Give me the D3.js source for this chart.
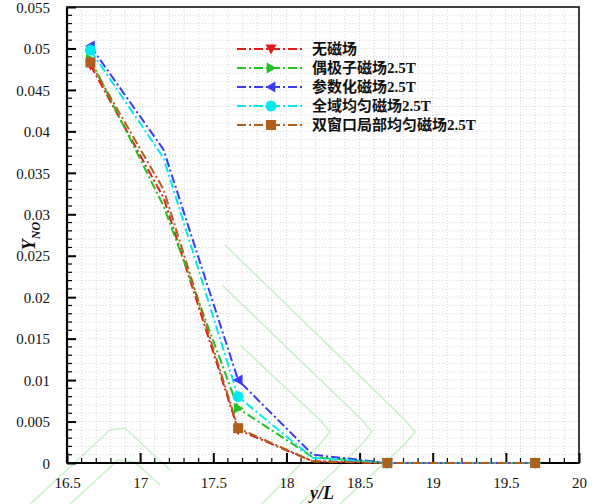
<!DOCTYPE html>
<html><head><meta charset="utf-8">
<script src="https://cdn.jsdelivr.net/npm/d3@7/dist/d3.min.js"></script>
<style>
html,body{margin:0;padding:0;background:#fff;}
svg{display:block;}
</style></head>
<body>
<svg id="chart" width="592" height="504"></svg>
<script>
// ---- data ----
const xValues = [16.66, 17.16, 17.67, 18.18, 18.69, 19.19, 19.70];
const seriesNames = ["无磁场", "偶极子磁场2.5T", "参数化磁场2.5T", "全域均匀磁场2.5T", "双窗口局部均匀磁场2.5T"];
const noField      = [0.0480, 0.0320, 0.0040, 0.0002, 0, 0, 0];
const dipoleField  = [0.0487, 0.0310, 0.0066, 0.0007, 0, 0, 0];
const paramField   = [0.0503, 0.0378, 0.0100, 0.0010, 0, 0, 0];
const globalField  = [0.0498, 0.0368, 0.0080, 0.0006, 0, 0, 0];
const windowField  = [0.0483, 0.0330, 0.0042, 0.0002, 0, 0, 0];
const xTickLabels = ["16.5","17","17.5","18","18.5","19","19.5","20"];
const yTickLabels = ["0","0.005","0.01","0.015","0.02","0.025","0.03","0.035","0.04","0.045","0.05","0.055"];

const seriesValues = [noField, dipoleField, paramField, globalField, windowField];
const colors = ["#e3191c", "#22c322", "#3b3bf5", "#00eaf0", "#b0601c"];
const markers = ["tdown", "tright", "tleft", "circle", "square"];

const svg = d3.select("#chart");
const L = 67, R = 579, T = 7, B = 463;
const x = d3.scaleLinear().domain([16.5, 20]).range([L, R]);
const y = d3.scaleLinear().domain([0, 0.055]).range([B, T]);

// ---- watermark (decorative) ----
const wm = svg.append("g").attr("fill","none").attr("stroke","#c9f2c9").attr("stroke-width",1.6);
const chevrons = [
  [[225,245],[405,420],[415,432],[405,444],[340,504]],
  [[222,285],[362,420],[372,432],[362,444],[300,504]],
  [[240,345],[320,420],[330,432],[320,444],[262,504]],
  [[30,504],[110,430],[125,428],[170,470]],
  [[70,504],[118,460],[135,462],[160,485]]
];
chevrons.forEach(c => wm.append("path").attr("d", d3.line().curve(d3.curveLinear)(c)));

// ---- grid ----
const grid = svg.append("g").attr("stroke","#d6d6d6").attr("stroke-width",1).attr("stroke-dasharray","1,2");
d3.range(16.6, 20.0, 0.1).forEach(v => grid.append("line").attr("x1",x(v)).attr("x2",x(v)).attr("y1",T).attr("y2",B));
d3.range(0.001, 0.0551, 0.001).forEach(v => grid.append("line").attr("x1",L).attr("x2",R).attr("y1",y(v)).attr("y2",y(v)));

// ---- axes ----
const xMajor = xTickLabels.map(Number);
const yMajor = yTickLabels.map(Number);
const xAxis = d3.axisBottom(x).tickValues(xMajor).tickFormat((d,i)=>xTickLabels[i]).tickSizeInner(-10).tickSizeOuter(0).tickPadding(14);
const yAxis = d3.axisLeft(y).tickValues(yMajor).tickFormat((d,i)=>yTickLabels[i]).tickSizeInner(-9).tickSizeOuter(0).tickPadding(17);
const gx = svg.append("g").attr("transform",`translate(0,${B})`).call(xAxis);
const gy = svg.append("g").attr("transform",`translate(${L},0)`).call(yAxis);
// minor ticks
const xMinor = d3.range(16.6, 20.0, 0.1).filter(v => Math.abs(v*2 - Math.round(v*2)) > 0.01);
const yMinor = d3.range(0.001, 0.055, 0.001).filter(v => Math.abs(v/0.005 - Math.round(v/0.005)) > 0.01);
gx.selectAll(".minor").data(xMinor).enter().append("line").attr("class","minor")
  .attr("x1",d=>x(d)).attr("x2",d=>x(d)).attr("y1",0).attr("y2",-5).attr("stroke","#000").attr("stroke-width",1.2);
gy.selectAll(".minor").data(yMinor).enter().append("line").attr("class","minor")
  .attr("y1",d=>y(d)).attr("y2",d=>y(d)).attr("x1",0).attr("x2",5).attr("stroke","#000").attr("stroke-width",1.2);
[gx, gy].forEach(g => {
  g.select(".domain").remove();
  g.selectAll(".tick line").attr("stroke","#000").attr("stroke-width",2);
  g.selectAll("text").attr("font-family","'Liberation Serif','Times New Roman',serif").attr("font-size",15).attr("fill","#111");
});
gy.selectAll("text").attr("dy","0.35em");
// frame
svg.append("rect").attr("x",L).attr("y",T).attr("width",R-L).attr("height",B-T)
  .attr("fill","none").attr("stroke","#111").attr("stroke-width",1.6);
svg.append("line").attr("x1",L).attr("x2",R).attr("y1",B).attr("y2",B).attr("stroke","#000").attr("stroke-width",2.2);
svg.append("line").attr("x1",L).attr("x2",L).attr("y1",T).attr("y2",B).attr("stroke","#000").attr("stroke-width",2.2);

// ---- axis titles ----
const yt = svg.append("text").attr("transform","translate(35,236) rotate(-90)")
  .attr("text-anchor","middle").attr("font-family","'Liberation Serif',serif")
  .attr("font-weight","bold").attr("font-style","italic").attr("font-size",18).attr("fill","#111");
yt.append("tspan").text("Y");
yt.append("tspan").attr("font-size",12).attr("dy",5).text("NO");
svg.append("text").attr("x",322).attr("y",499).attr("text-anchor","middle")
  .attr("font-family","'Liberation Serif',serif").attr("font-weight","bold").attr("font-style","italic")
  .attr("font-size",18).attr("fill","#111").text("y/L");

// ---- markers ----
function drawMarker(g, type, cx, cy, color) {
  const s = 5.5;
  if (type === "circle") return g.append("circle").attr("cx",cx).attr("cy",cy).attr("r",5.5).attr("fill",color);
  if (type === "square") return g.append("rect").attr("x",cx-5).attr("y",cy-5).attr("width",10).attr("height",10).attr("fill",color);
  let pts;
  if (type === "tdown") pts = [[cx-s,cy-s*0.8],[cx+s,cy-s*0.8],[cx,cy+s]];
  if (type === "tright") pts = [[cx-s*0.8,cy-s],[cx-s*0.8,cy+s],[cx+s,cy]];
  if (type === "tleft") pts = [[cx+s*0.8,cy-s],[cx+s*0.8,cy+s],[cx-s,cy]];
  return g.append("polygon").attr("points",pts.map(p=>p.join(",")).join(" ")).attr("fill",color);
}

// ---- series ----
const line = d3.line().x(d=>x(d[0])).y(d=>y(d[1]));
const plot = svg.append("g");
seriesValues.forEach((vals, i) => {
  const pts = xValues.map((xv, j) => [xv, vals[j]]);
  plot.append("path").attr("d", line(pts)).attr("fill","none").attr("stroke",colors[i])
    .attr("stroke-width",2).attr("stroke-dasharray","9,3,2,3");
});
seriesValues.forEach((vals, i) => {
  const g = plot.append("g");
  xValues.forEach((xv, j) => { if (j % 2 === 0) drawMarker(g, markers[i], x(xv), y(vals[j]), colors[i]); });
});

// ---- legend ----
const lg = svg.append("g");
const rowY = [49, 68, 87, 106, 125];
seriesNames.forEach((name, i) => {
  const yy = rowY[i];
  lg.append("line").attr("x1",237).attr("x2",304).attr("y1",yy).attr("y2",yy)
    .attr("stroke",colors[i]).attr("stroke-width",2).attr("stroke-dasharray","9,3,2,3");
  drawMarker(lg, markers[i], 271, yy, colors[i]);
  lg.append("text").attr("x",312).attr("y",yy).attr("dy","0.36em")
    .attr("font-family","'Liberation Serif','Noto Sans CJK SC',serif").attr("font-weight","bold")
    .attr("font-size",15).attr("fill","#111").text(name);
});
</script>
</body></html>
